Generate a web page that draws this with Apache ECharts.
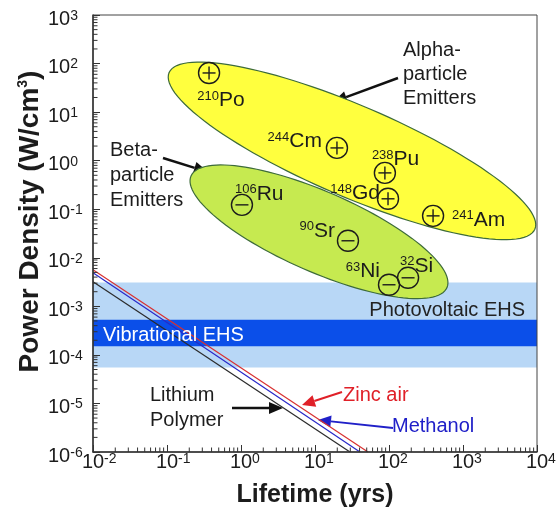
<!DOCTYPE html>
<html><head><meta charset="utf-8">
<script src="https://cdn.jsdelivr.net/npm/echarts@6/dist/echarts.min.js"></script>
<style>html,body{margin:0;padding:0;background:#fff}#c{width:557px;height:513px}</style>
</head><body><div id="c"></div>
<script>
// ---------- data ----------
const xTickValues = [0.01, 0.1, 1, 10, 100, 1000, 10000];
const yTickValues = [1e-6, 1e-5, 1e-4, 1e-3, 1e-2, 1e-1, 1, 10, 100, 1000];

const alphaIsotopes = ['Po', 'Cm', 'Pu', 'Gd', 'Am'];
const alphaMass = ['210', '244', '238', '148', '241'];
const alphaLifetime = [0.37, 19.8, 88, 97, 394];
const alphaPower = [64, 1.83, 0.56, 0.164, 0.073];

const betaIsotopes = ['Ru', 'Sr', 'Ni', 'Si'];
const betaMass = ['106', '90', '63', '32'];
const betaLifetime = [1.03, 27.9, 100, 181];
const betaPower = [0.123, 0.0224, 0.00278, 0.00387];

const zincAirLine = [[0.01, 5.66e-3], [52, 1e-6]];
const methanolLine = [[0.01, 4.91e-3], [40.5, 1e-6]];
const lithiumLine = [[0.01, 3.2e-3], [29.7, 1e-6]];

const photovoltaicBand = [5.5e-5, 3.1e-3];
const vibrationalBand = [1.5e-4, 5.3e-4];

// regions: [center, end of major axis, end of minor axis]
const alphaRegion = [[31.6, 1.59], [9354, 0.0388], [18.07, 0.218]];
const betaRegion = [[11.32, 0.0343], [606.7, 0.002427], [6.87, 0.006012]];

// ---------- styling ----------
const FONT = 'Liberation Sans, Arial, Helvetica, sans-serif';
const INK = '#1c1c1c';

const minorX = [], minorY = [];
for (let k = -2; k < 4; k++) for (let m = 2; m < 10; m++) minorX.push(m * Math.pow(10, k));
for (let k = -6; k < 3; k++) for (let m = 2; m < 10; m++) minorY.push(m * Math.pow(10, k));

const labelPlace = {
  Po: {dx: 12, dy: 27, align: 'center'},
  Cm: {dx: -15, dy: -6.5, align: 'right'},
  Pu: {dx: -13, dy: -13.5, align: 'left'},
  Gd: {dx: -8, dy: -5.5, align: 'right'},
  Am: {dx: 19, dy: 4, align: 'left'},
  Ru: {dx: -7, dy: -11, align: 'left'},
  Sr: {dx: -13, dy: -10, align: 'right'},
  Ni: {dx: -9, dy: -13.5, align: 'right'},
  Si: {dx: -8, dy: -12, align: 'left'}
};

const isoRich = {
  s: {fontSize: 13, lineHeight: 13, padding: [0, 0, 11, 0], verticalAlign: 'top', fontFamily: FONT, color: INK},
  b: {fontSize: 21, lineHeight: 21, verticalAlign: 'bottom', fontFamily: FONT, color: INK}
};
const tickRich = {
  h: {fontSize: 14, lineHeight: 14, fontFamily: FONT, color: 'rgba(0,0,0,0)'},
  s: {fontSize: 14, lineHeight: 14, padding: [0, 0, 9, 0], verticalAlign: 'top', fontFamily: FONT, color: INK},
  b: {fontSize: 20, lineHeight: 20, verticalAlign: 'bottom', fontFamily: FONT, color: INK}
};
function expOf(v) { return Math.round(Math.log10(v)); }

function isoRenderer(names, masses, plus) {
  return function (params, api) {
    const p = api.coord([api.value(0), api.value(1)]);
    const i = params.dataIndex;
    const pl = labelPlace[names[i]];
    const st = {stroke: INK, lineWidth: 1.4, fill: null};
    const ch = [
      {type: 'circle', shape: {cx: p[0], cy: p[1], r: 10.5}, style: {stroke: INK, lineWidth: 1.4, fill: 'rgba(0,0,0,0)'}},
      {type: 'line', shape: {x1: p[0] - 6.5, y1: p[1], x2: p[0] + 6.5, y2: p[1]}, style: st}
    ];
    if (plus) ch.push({type: 'line', shape: {x1: p[0], y1: p[1] - 6.5, x2: p[0], y2: p[1] + 6.5}, style: st});
    ch.push({type: 'text', x: p[0] + pl.dx, y: p[1] + pl.dy,
      style: {text: '{s|' + masses[i] + '}{b|' + names[i] + '}', rich: isoRich,
        align: pl.align, verticalAlign: 'middle', fill: INK, fontFamily: FONT}});
    return {type: 'group', children: ch};
  };
}

function ellipseRenderer(region, fill) {
  return function (params, api) {
    const c = api.coord(region[0]), m = api.coord(region[1]), n = api.coord(region[2]);
    const ax = m[0] - c[0], ay = m[1] - c[1], bx = n[0] - c[0], by = n[1] - c[1];
    const pts = [];
    for (let i = 0; i < 120; i++) {
      const t = i / 120 * 2 * Math.PI;
      pts.push([c[0] + ax * Math.cos(t) + bx * Math.sin(t), c[1] + ay * Math.cos(t) + by * Math.sin(t)]);
    }
    return {type: 'polygon', shape: {points: pts}, style: {fill: fill, stroke: '#3d6b3a', lineWidth: 1.2}};
  };
}

function arrow(x1, y1, x2, y2, color, w, hl, hw) {
  const a = Math.atan2(y2 - y1, x2 - x1);
  const bx = x2 - hl * Math.cos(a), by = y2 - hl * Math.sin(a);
  const nx = -Math.sin(a) * hw, ny = Math.cos(a) * hw;
  return {type: 'group', z: 100, children: [
    {type: 'line', shape: {x1: x1, y1: y1, x2: bx, y2: by}, style: {stroke: color, lineWidth: w}},
    {type: 'polygon', shape: {points: [[x2, y2], [bx + nx, by + ny], [bx - nx, by - ny]]}, style: {fill: color}}
  ]};
}
function txt(x, y, text, color, align, lh) {
  return {type: 'text', z: 100, x: x, y: y, style: {text: text, fill: color, font: '20px ' + FONT,
    align: align || 'left', verticalAlign: 'top', lineHeight: lh || 24}};
}

const axisCommon = {
  type: 'log', logBase: 10, splitNumber: 10, z: 10, nameMoveOverlap: false,
  axisLine: {show: true, onZero: false, lineStyle: {color: '#333', width: 1.5}},
  axisTick: {show: true, inside: true, length: 7, lineStyle: {color: '#333', width: 1}},
  splitLine: {show: false}, minorTick: {show: false}, minorSplitLine: {show: false}
};

const chart = echarts.init(document.getElementById('c'), null, {renderer: 'canvas'});
chart.setOption({
  animation: false,
  backgroundColor: '#fff',
  grid: {left: 93, right: 20, top: 15, bottom: 61, show: true, borderColor: '#444', borderWidth: 1, z: 10,
    containLabel: false, outerBoundsMode: 'none'},
  xAxis: Object.assign({}, axisCommon, {
    min: xTickValues[0], max: xTickValues[xTickValues.length - 1],
    axisLabel: {margin: 0, rich: tickRich, formatter: v => '{h|' + expOf(v) + '}{b|10}{s|' + expOf(v) + '}'},
    name: 'Lifetime (yrs)', nameLocation: 'middle', nameGap: 30,
    nameTextStyle: {fontSize: 25, fontWeight: 'bold', fontFamily: FONT, color: INK, lineHeight: 26}
  }),
  yAxis: Object.assign({}, axisCommon, {
    min: yTickValues[0], max: yTickValues[yTickValues.length - 1],
    axisLabel: {margin: 45, align: 'left', padding: [8, 0, 0, 0], rich: tickRich, formatter: v => '{b|10}{s|' + expOf(v) + '}'},
    name: '{b|Power Density (W/cm}{s|3}{b|)}', nameLocation: 'middle', nameGap: 49,
    nameTextStyle: {padding: [0, 0, 0, 24], rich: {
      b: {fontSize: 28, lineHeight: 28, fontWeight: 'bold', fontFamily: FONT, color: INK, verticalAlign: 'bottom'},
      s: {fontSize: 14, lineHeight: 14, fontWeight: 'bold', fontFamily: FONT, color: INK, padding: [0, 0, 19, 0], verticalAlign: 'top'}
    }}
  }),
  series: [
    {type: 'line', data: [], z: 1, silent: true,
      markArea: {silent: true, data: [
        [{yAxis: photovoltaicBand[1], itemStyle: {color: '#b8d7f6'}}, {yAxis: photovoltaicBand[0]}],
        [{yAxis: vibrationalBand[1], itemStyle: {color: '#0b4fe9'}}, {yAxis: vibrationalBand[0]}]
      ]}},
    {type: 'line', name: 'Lithium Polymer', data: lithiumLine, symbol: 'none', z: 3, lineStyle: {color: '#2a2a2a', width: 1.2}},
    {type: 'line', name: 'Methanol', data: methanolLine, symbol: 'none', z: 3, lineStyle: {color: '#2828c8', width: 1.2}},
    {type: 'line', name: 'Zinc air', data: zincAirLine, symbol: 'none', z: 3, lineStyle: {color: '#d83030', width: 1.2}},
    {type: 'custom', z: 4, silent: true, clip: false, data: [alphaRegion[0]], renderItem: ellipseRenderer(alphaRegion, '#ffff3e')},
    {type: 'custom', z: 5, silent: true, clip: false, data: [betaRegion[0]], renderItem: ellipseRenderer(betaRegion, '#c6ea50')},
    {type: 'custom', z: 6, silent: true, clip: false, data: alphaLifetime.map((x, i) => [x, alphaPower[i]]),
      renderItem: isoRenderer(alphaIsotopes, alphaMass, true)},
    {type: 'custom', z: 6, silent: true, clip: false, data: betaLifetime.map((x, i) => [x, betaPower[i]]),
      renderItem: isoRenderer(betaIsotopes, betaMass, false)},
    {type: 'custom', z: 12, silent: true, clip: false, data: minorX.map(v => [v, yTickValues[0]]),
      renderItem: (p, api) => { const c = api.coord([api.value(0), api.value(1)]);
        return {type: 'line', shape: {x1: c[0], y1: c[1], x2: c[0], y2: c[1] - 4.5}, style: {stroke: '#333', lineWidth: 1}}; }},
    {type: 'custom', z: 12, silent: true, clip: false, data: minorY.map(v => [xTickValues[0], v]),
      renderItem: (p, api) => { const c = api.coord([api.value(0), api.value(1)]);
        return {type: 'line', shape: {x1: c[0], y1: c[1], x2: c[0] + 4.5, y2: c[1]}, style: {stroke: '#333', lineWidth: 1}}; }}
  ],
  graphic: [
    txt(403, 38, 'Alpha-\nparticle\nEmitters', INK, 'left', 24),
    arrow(398, 78, 333, 102, '#111', 2.5, 14, 6),
    txt(110, 137.5, 'Beta-\nparticle\nEmitters', INK, 'left', 25),
    arrow(163, 158, 208, 172, '#111', 2.5, 14, 6),
    txt(150, 382.5, 'Lithium\nPolymer', INK, 'left', 25),
    arrow(232, 408, 283, 408, '#111', 2.5, 14, 6),
    txt(525, 298, 'Photovoltaic EHS', '#222', 'right', 24),
    txt(103, 323, 'Vibrational EHS', '#ffffff', 'left', 24),
    txt(343, 383, 'Zinc air', '#e02028', 'left', 24),
    arrow(342, 392, 302, 405, '#e02028', 2, 13, 6),
    txt(392, 414, 'Methanol', '#2020c8', 'left', 24),
    arrow(393, 428, 318, 420, '#2020c8', 2, 13, 6)
  ]
});
</script>
</body></html>
